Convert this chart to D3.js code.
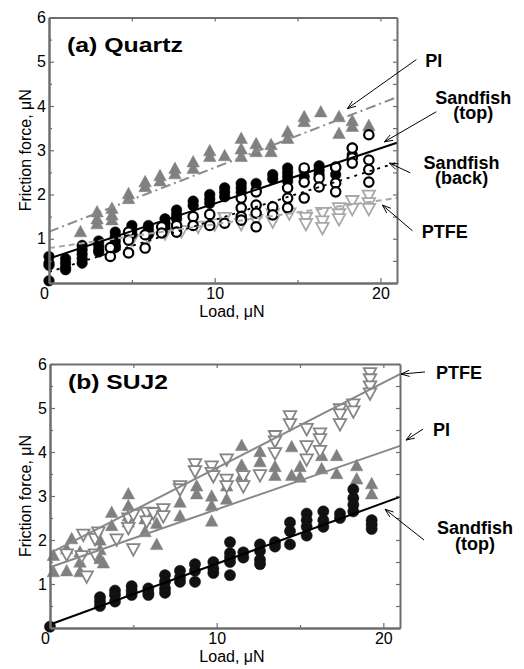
<!DOCTYPE html>
<html>
<head>
<meta charset="utf-8">
<script src="https://cdn.jsdelivr.net/npm/d3@7"></script>
<style>
  body { margin: 0; background: #fff; }
  svg { font-family: "Liberation Sans", Arial, sans-serif; }
</style>
</head>
<body>
<svg id="chart" width="524" height="669"></svg>
<script>
// ---- data: [load (uN), friction force (uN)] ----

// (a) Quartz
const quartzTop = [
  [0,0.6],[0,0.45],[0,0.4],[0,0.05],
  [1,0.55],[1,0.45],[1,0.35],[1,0.3],
  [2,0.85],[2,0.75],[2,0.65],[2,0.55],[2,0.45],
  [3,0.95],[3,0.85],[3,0.75],[3,0.7],
  [4,1.15],[4,1.05],[4,0.95],[4,0.85],[4,0.8],
  [5,1.3],[5,1.2],[5,1.1],
  [6,1.3],[6,1.2],[6,1.1],
  [7,1.45],[7,1.35],[7,1.25],
  [7.7,1.65],[7.7,1.55],[7.7,1.45],
  [8.7,1.85],[8.7,1.75],
  [9.7,2.0],[9.7,1.9],[9.7,1.8],
  [10.6,2.15],[10.6,2.05],[10.6,1.95],
  [11.6,2.25],[11.6,2.15],[11.6,2.05],
  [12.5,2.25],[12.5,2.1],
  [13.5,2.45],[13.5,2.35],
  [14.4,2.6],[14.4,2.5],[14.4,2.4],[14.4,2.3],
  [15.4,2.55],[15.4,2.4],
  [16.3,2.65],[16.3,2.55],[16.3,2.45],
  [17.3,2.6],[17.3,2.45],
  [18.3,3.05],[18.3,2.9]
];
const quartzBack = [
  [3.7,0.8],[3.7,0.6],
  [4.8,1.15],[4.8,0.97],[4.8,0.68],
  [5.8,1.09],[5.8,0.79],
  [6.8,1.27],[6.8,1.13],
  [7.7,1.3],[7.7,1.15],
  [8.7,1.5],[8.7,1.3],
  [9.7,1.55],[9.7,1.3],
  [10.6,1.35],
  [11.6,1.92],[11.6,1.7],[11.6,1.5],[11.6,1.42],
  [12.5,2.06],[12.5,1.76],[12.5,1.58],[12.5,1.27],
  [13.5,1.72],[13.5,1.54],
  [14.4,2.15],[14.4,1.92],[14.4,1.7],
  [15.4,2.6],[15.4,2.28],[15.4,1.92],
  [16.3,2.37],[16.3,2.17],
  [17.3,2.62],[17.3,2.26],[17.3,2.06],
  [18.3,3.05],[18.3,2.83],[18.3,2.71],
  [19.3,3.35],[19.3,2.78],[19.3,2.56],[19.3,2.28]
];
const quartzPI = [
  [1.9,1.13],[2.9,1.58],[2.9,1.42],[2.9,1.31],[3.8,1.66],[3.8,1.51],[3.8,1.4],
  [4.8,1.99],[4.8,1.88],[5.8,2.26],[5.8,2.15],[6.7,2.4],[6.7,2.28],
  [7.6,2.56],[7.6,2.44],[8.7,2.71],[8.7,2.56],[9.7,2.96],[9.7,2.83],
  [10.6,2.85],[11.6,3.24],[11.6,3.0],[11.6,2.83],[12.5,3.12],[12.5,2.94],
  [13.4,3.1],[13.4,2.94],[14.4,3.39],[14.4,3.24],[15.4,3.73],[15.4,3.62],
  [16.4,3.84],[17.5,3.73],[17.5,3.35],[18.3,3.64],[18.3,3.51],[19.3,3.53]
];
const quartzPTFE = [
  [5,1.0],[6,1.05],[7,1.15],[8,1.2],[9,1.3],[10,1.35],[10.6,1.5],
  [11.6,1.36],[12.5,1.45],[13.5,1.58],[13.5,1.42],[14.5,1.6],
  [15.5,1.5],[15.5,1.36],[16.5,1.61],[16.5,1.42],[16.5,1.27],
  [17.5,1.72],[17.5,1.58],[17.5,1.47],[18.3,1.88],[18.3,1.7],
  [19.3,2.0],[19.3,1.83],[19.3,1.7]
];
// fitted lines: force at load 0 and at load 21
const quartzFitPI = [1.16, 4.2];
const quartzFitTop = [0.55, 3.17];
const quartzFitBack = [0.25, 2.72];
const quartzFitPTFE = [0.79, 1.92];

// (b) SUJ2
const sujTop = [
  [0,0.03],
  [3,0.7],[3,0.6],[3,0.5],
  [3.9,0.85],[3.9,0.75],[3.9,0.6],
  [4.9,0.95],[4.9,0.85],[4.9,0.75],
  [5.9,0.9],[5.9,0.8],[5.9,0.75],
  [6.9,1.2],[6.9,1.05],[6.9,0.9],[6.9,0.8],
  [7.8,1.3],[7.8,1.15],[7.8,1.05],
  [8.7,1.45],[8.7,1.3],[8.7,1.05],
  [9.8,1.5],[9.8,1.35],[9.8,1.25],
  [10.8,1.95],[10.8,1.7],[10.8,1.6],[10.8,1.5],[10.8,1.2],
  [11.6,1.72],[11.6,1.6],
  [12.6,1.9],[12.6,1.75],[12.6,1.55],[12.6,1.45],
  [13.5,1.95],[13.5,1.85],
  [14.4,2.4],[14.4,2.2],[14.4,1.9],
  [15.4,2.6],[15.4,2.45],[15.4,2.3],[15.4,2.1],
  [16.4,2.65],[16.4,2.45],[16.4,2.3],
  [17.4,2.6],[17.4,2.5],
  [18.2,3.15],[18.2,2.95],[18.2,2.8],[18.2,2.65],
  [19.3,2.45],[19.3,2.35],[19.3,2.25]
];
const sujPI = [
  [0.2,1.62],[0.2,1.25],[1,1.77],[1,1.27],[1.3,2.0],[1.8,1.7],[1.8,1.47],[1.8,1.25],
  [3,1.97],[3,1.75],[3,1.55],[3.2,1.45],[3.7,2.6],[3.7,2.3],
  [4.7,3.02],[4.7,2.75],[4.7,2.52],[4.7,2.38],[5.7,2.45],[5.7,2.16],
  [6.4,2.35],[6.4,1.87],[7.8,2.83],[7.8,2.52],[8.8,3.2],[8.8,3.02],
  [9.7,2.97],[9.7,2.75],[9.7,2.4],[10.6,3.2],[10.6,2.9],
  [11.5,4.12],[11.5,3.67],[11.5,3.44],[12.6,3.98],[12.6,3.75],
  [13.5,3.64],[13.5,3.44],[14.5,4.09],[14.5,3.44],[15.0,3.64],[15.0,3.4],
  [16.3,3.89],[16.3,3.59],[17.2,3.89],[17.2,3.48],[18.4,3.66],[18.4,3.36],
  [19.3,3.25],[19.3,3.02]
];
const sujPTFE = [
  [1,1.7],[2,2.15],[1.9,1.66],[2.2,1.2],[2.7,2.05],[2.9,2.2],[2.7,1.7],
  [4,2.04],[4.7,2.52],[4.7,2.3],[5,1.82],[5,2.6],[5.8,2.65],[5.8,2.45],
  [6.2,2.64],[6.8,2.73],[6.8,2.57],[7.8,3.25],[7.8,3.18],[8.7,3.75],[8.7,3.59],
  [9.7,3.7],[9.7,3.55],[9.8,3.48],[10.6,3.86],[10.6,3.4],[10.6,3.25],
  [11.6,3.48],[11.6,3.25],[12.6,3.5],[13.5,4.39],[13.5,4.27],[13.5,4.0],
  [14.4,4.84],[14.4,4.66],[15.4,4.55],[15.4,4.16],[15.4,3.86],
  [16.2,4.45],[16.2,4.32],[16.2,4.05],[17.4,5.0],[17.4,4.88],[17.4,4.66],
  [18.2,5.11],[18.2,4.95],[19.2,5.82],[19.2,5.68],[19.2,5.52],[19.2,5.36]
];
const sujFitPTFE = [1.7, 5.77];
const sujFitPI = [1.38, 4.14];
const sujFitTop = [0.08, 2.98];

const xMajor = [0, 10, 20];
const xMinor = [5, 15];
const yMajor = [1, 2, 3, 4, 5, 6];
const yMinor = [0.5, 1.5, 2.5, 3.5, 4.5, 5.5];

// annotations, in data units: label lines, label position, arrow tail -> tip
const quartzNotes = [
  {lines: ["PI"], x: 22.7, y: 4.89, anchor: "start", from: [22.17, 5.05], to: [18.0, 3.94]},
  {lines: ["Sandfish", "(top)"], x: 25.6, y: 4.05, anchor: "middle", from: [23.37, 3.87], to: [20.24, 3.19]},
  {lines: ["Sandfish", "(back)"], x: 24.9, y: 2.58, anchor: "middle", from: [21.8, 2.49], to: [20.54, 2.71]},
  {lines: ["PTFE"], x: 22.5, y: 1.02, anchor: "start", from: [21.93, 1.18], to: [20.12, 1.76]}
];
const sujNotes = [
  {lines: ["PTFE"], x: 23.16, y: 5.66, anchor: "start", from: [22.5, 5.82], to: [21.06, 5.77]},
  {lines: ["PI"], x: 22.98, y: 4.36, anchor: "start", from: [22.38, 4.52], to: [21.36, 4.27]},
  {lines: ["Sandfish", "(top)"], x: 25.5, y: 2.13, anchor: "middle", from: [22.44, 2.0], to: [20.1, 2.7]}
];

const svg = d3.select("#chart");
const axisColor = "#6e6e6e";

// marker shapes
function triUp(w, h) {
  return `M0,${-h * 2 / 3}L${w / 2},${h / 3}L${-w / 2},${h / 3}Z`;
}
function triDown(w, h) {
  return `M0,${h * 2 / 3}L${w / 2},${-h / 3}L${-w / 2},${-h / 3}Z`;
}

function drawPanel(p) {
  const x = d3.scaleLinear().domain([0, 21]).range([p.left, p.right]);
  const y = d3.scaleLinear().domain([0, 6]).range([p.bottom, p.top]);
  const g = svg.append("g");

  // series points
  p.series.forEach(s => {
    const sg = g.append("g");
    if (s.shape === "circle") {
      sg.selectAll("circle").data(s.data).enter().append("circle")
        .attr("cx", d => x(d[0])).attr("cy", d => y(d[1]))
        .attr("r", s.r)
        .attr("fill", s.fill).attr("stroke", s.stroke).attr("stroke-width", s.sw);
    } else {
      const path = s.shape === "up" ? triUp(12.5, 11.5) : triDown(12.5, 11.5);
      sg.selectAll("path").data(s.data).enter().append("path")
        .attr("d", path)
        .attr("transform", d => `translate(${x(d[0])},${y(d[1])})`)
        .attr("fill", s.fill).attr("stroke", s.stroke).attr("stroke-width", s.sw);
    }
  });

  // fit lines
  const line = d3.line().x(d => x(d[0])).y(d => y(d[1]));
  p.fits.forEach(f => {
    g.append("path").datum([[0, f.ends[0]], [21, f.ends[1]]])
      .attr("d", line)
      .attr("fill", "none").attr("stroke", f.color).attr("stroke-width", f.width)
      .attr("stroke-dasharray", f.dash || null);
  });

  // axes (ticks point inward on all four sides)
  const styleAxis = sel => {
    sel.selectAll(".domain").attr("stroke", axisColor).attr("stroke-width", 2);
    sel.selectAll(".tick line").attr("stroke", axisColor).attr("stroke-width", 1.2);
    sel.selectAll("text").attr("fill", "#000").style("font-size", "16px")
      .style("font-family", "'Liberation Sans', Arial, sans-serif");
  };
  const addAxis = (axis, tx, ty) => g.append("g").attr("transform", `translate(${tx},${ty})`).call(axis).call(styleAxis);

  const bottom = addAxis(d3.axisBottom(x).tickValues(xMajor).tickSize(-5).tickSizeOuter(0).tickPadding(5), 0, p.bottom);
  bottom.selectAll(".tick text").filter(d => d === 0).attr("dx", -5);
  addAxis(d3.axisBottom(x).tickValues(xMinor).tickSize(-3).tickSizeOuter(0).tickFormat(""), 0, p.bottom);
  addAxis(d3.axisTop(x).tickValues(xMajor.concat(xMinor)).tickSize(-4).tickSizeOuter(0).tickFormat(""), 0, p.top);
  addAxis(d3.axisLeft(y).tickValues(yMajor).tickFormat(d3.format("d")).tickSize(-5).tickSizeOuter(0).tickPadding(3), p.left, 0);
  addAxis(d3.axisLeft(y).tickValues(yMinor).tickSize(-3).tickSizeOuter(0).tickFormat(""), p.left, 0);
  addAxis(d3.axisRight(y).tickValues(yMajor.concat(yMinor)).tickSize(-4).tickSizeOuter(0).tickFormat(""), p.right, 0);

  // title (the original's bold face is wider than Liberation Sans)
  g.append("text").attr("x", p.left + 18).attr("y", p.titleY)
    .attr("font-size", 21).attr("font-weight", "bold")
    .attr("textLength", p.titleWidth).attr("lengthAdjust", "spacingAndGlyphs")
    .text(p.title);

  // axis labels
  g.append("text").attr("x", 232).attr("y", p.bottom + 34)
    .attr("text-anchor", "middle").attr("font-size", 16).text("Load, \u03BCN");
  g.append("text")
    .attr("transform", `translate(31,${(p.top + p.bottom) / 2}) rotate(-90)`)
    .attr("text-anchor", "middle").attr("font-size", 16).text("Friction force, \u03BCN");

  // annotations
  p.notes.forEach(n => {
    const t = g.append("text").attr("x", x(n.x)).attr("y", y(n.y))
      .attr("text-anchor", n.anchor).attr("font-size", 18).attr("font-weight", "bold");
    n.lines.forEach((l, i) => {
      t.append("tspan").attr("x", x(n.x)).attr("dy", i === 0 ? 0 : 15.5).text(l);
    });
    const x1 = x(n.from[0]), y1 = y(n.from[1]), x2 = x(n.to[0]), y2 = y(n.to[1]);
    g.append("line").attr("x1", x1).attr("y1", y1).attr("x2", x2).attr("y2", y2)
      .attr("stroke", "#000").attr("stroke-width", 1);
    const a = Math.atan2(y1 - y2, x1 - x2), len = 9, spread = 0.35;
    g.append("path")
      .attr("d", `M${x2 + len * Math.cos(a + spread)},${y2 + len * Math.sin(a + spread)}L${x2},${y2}L${x2 + len * Math.cos(a - spread)},${y2 + len * Math.sin(a - spread)}`)
      .attr("fill", "none").attr("stroke", "#000").attr("stroke-width", 1);
  });
}

drawPanel({
  left: 49, right: 397, top: 17.5, bottom: 283, title: "(a) Quartz", titleY: 52, titleWidth: 116,
  series: [
    {data: quartzPTFE, shape: "down", fill: "#fff", stroke: "#a8a8a8", sw: 1.8},
    {data: quartzPI, shape: "up", fill: "#808080", stroke: "#808080", sw: 0.5},
    {data: quartzTop, shape: "circle", r: 5.3, fill: "#000", stroke: "#000", sw: 0.5},
    {data: quartzBack, shape: "circle", r: 4.7, fill: "#fff", stroke: "#000", sw: 2.2}
  ],
  fits: [
    {ends: quartzFitPI, color: "#8a8a8a", width: 2, dash: "10,4,2,4"},
    {ends: quartzFitPTFE, color: "#a8a8a8", width: 2, dash: "6,4"},
    {ends: quartzFitTop, color: "#000", width: 2},
    {ends: quartzFitBack, color: "#000", width: 1.8, dash: "3,5"}
  ],
  notes: quartzNotes
});

drawPanel({
  left: 50, right: 400, top: 364, bottom: 628, title: "(b) SUJ2", titleY: 389, titleWidth: 100,
  series: [
    {data: sujPI, shape: "up", fill: "#808080", stroke: "#808080", sw: 0.5},
    {data: sujPTFE, shape: "down", fill: "#fff", stroke: "#858585", sw: 1.8},
    {data: sujTop, shape: "circle", r: 5.6, fill: "#111", stroke: "#111", sw: 0.5}
  ],
  fits: [
    {ends: sujFitPTFE, color: "#888", width: 2},
    {ends: sujFitPI, color: "#888", width: 2},
    {ends: sujFitTop, color: "#000", width: 2}
  ],
  notes: sujNotes
});
</script>
</body>
</html>
